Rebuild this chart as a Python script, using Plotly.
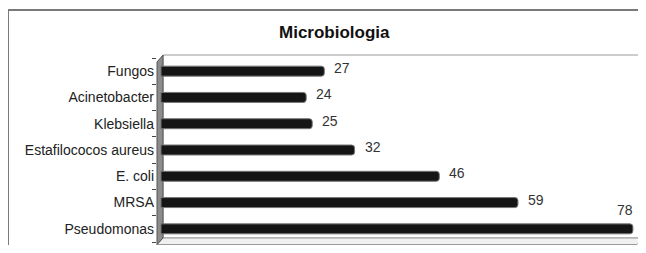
import plotly.graph_objects as go

categories = ["Pseudomonas", "MRSA", "E. coli", "Estafilococos aureus", "Klebsiella", "Acinetobacter", "Fungos"]
values = [78, 59, 46, 32, 25, 24, 27]
title_text = "Microbiologia"

# page body has an 8px margin; keep the figure inside the viewport (no scrollbars)
OFF = 8
W, H = 646 - OFF, 253 - 2 * OFF
L, R, T, B = 157 - OFF, 3, 58 - OFF, 3
X_MIN, X_MAX = -0.66, 79.67

pw = W - L - R
ph = H - T - B


def px(xs):
    return (xs - OFF - L) / pw


def py(ys):
    return (H - B - (ys - OFF)) / ph


FONT = "Liberation Sans, Arial"

fig = go.Figure()
fig.add_trace(go.Bar(
    x=values, y=categories, orientation="h",
    width=0.38,
    marker=dict(color="#151515", line=dict(color="#777777", width=1), cornerradius=3),
    hoverinfo="x+y",
))

annotations = []
for c, v in zip(categories, values):
    if v > X_MAX - 3:
        annotations.append(dict(x=v, y=c, xref="x", yref="y", text=str(v), showarrow=False,
                                xanchor="right", yanchor="middle", xshift=2, yshift=19,
                                font=dict(size=14, color="#333333", family=FONT)))
    else:
        annotations.append(dict(x=v, y=c, xref="x", yref="y", text=str(v), showarrow=False,
                                xanchor="left", yanchor="middle", xshift=8, yshift=3,
                                font=dict(size=14, color="#333333", family=FONT)))

annotations.append(dict(x=px(334), y=py(32), xref="paper", yref="paper", text="<b>" + title_text + "</b>",
                        showarrow=False, xanchor="center", yanchor="middle",
                        font=dict(size=17, color="#111111", family=FONT)))

shapes = [
    # outer frame
    dict(type="rect", xref="paper", yref="paper", x0=px(8), x1=px(700), y0=py(10), y1=py(300),
         line=dict(color="#7a7a7a", width=2), fillcolor="rgba(0,0,0,0)", layer="below"),
    # back wall
    dict(type="path", xref="paper", yref="paper",
         path=f"M {px(163)} {py(55)} L {px(643)} {py(55)} L {px(643)} {py(238)} L {px(163)} {py(238)} Z",
         line=dict(color="#9a9a9a", width=1), fillcolor="white", layer="below"),
    # floor
    dict(type="path", xref="paper", yref="paper",
         path=f"M {px(163)} {py(238)} L {px(643)} {py(238)} L {px(637)} {py(244.5)} L {px(157)} {py(244.5)} Z",
         line=dict(color="#9a9a9a", width=1), fillcolor="#f0f0f0", layer="below"),
    # left wall
    dict(type="path", xref="paper", yref="paper",
         path=f"M {px(157)} {py(62)} L {px(163)} {py(55)} L {px(163)} {py(238)} L {px(157)} {py(244.5)} Z",
         line=dict(color="#555555", width=1), fillcolor="#8c8c8c", layer="below"),
]

fig.update_layout(
    width=W, height=H,
    margin=dict(l=L, r=R, t=T, b=B, pad=0),
    paper_bgcolor="white", plot_bgcolor="rgba(0,0,0,0)",
    showlegend=False,
    font=dict(family=FONT, size=14, color="#222222"),
    xaxis=dict(range=[X_MIN, X_MAX], showgrid=False, zeroline=False, showticklabels=False,
               showline=False, ticks=""),
    yaxis=dict(categoryorder="array", categoryarray=categories, range=[-0.5, len(categories) - 0.5],
               showgrid=False, zeroline=False, showline=False,
               ticks="outside", tickson="boundaries", ticklen=4, tickcolor="#444444",
               ticklabelstandoff=2,
               tickfont=dict(size=14, color="#222222", family=FONT)),
    bargap=0.6,
    shapes=shapes,
    annotations=annotations,
)

fig.write_html("out.html")
